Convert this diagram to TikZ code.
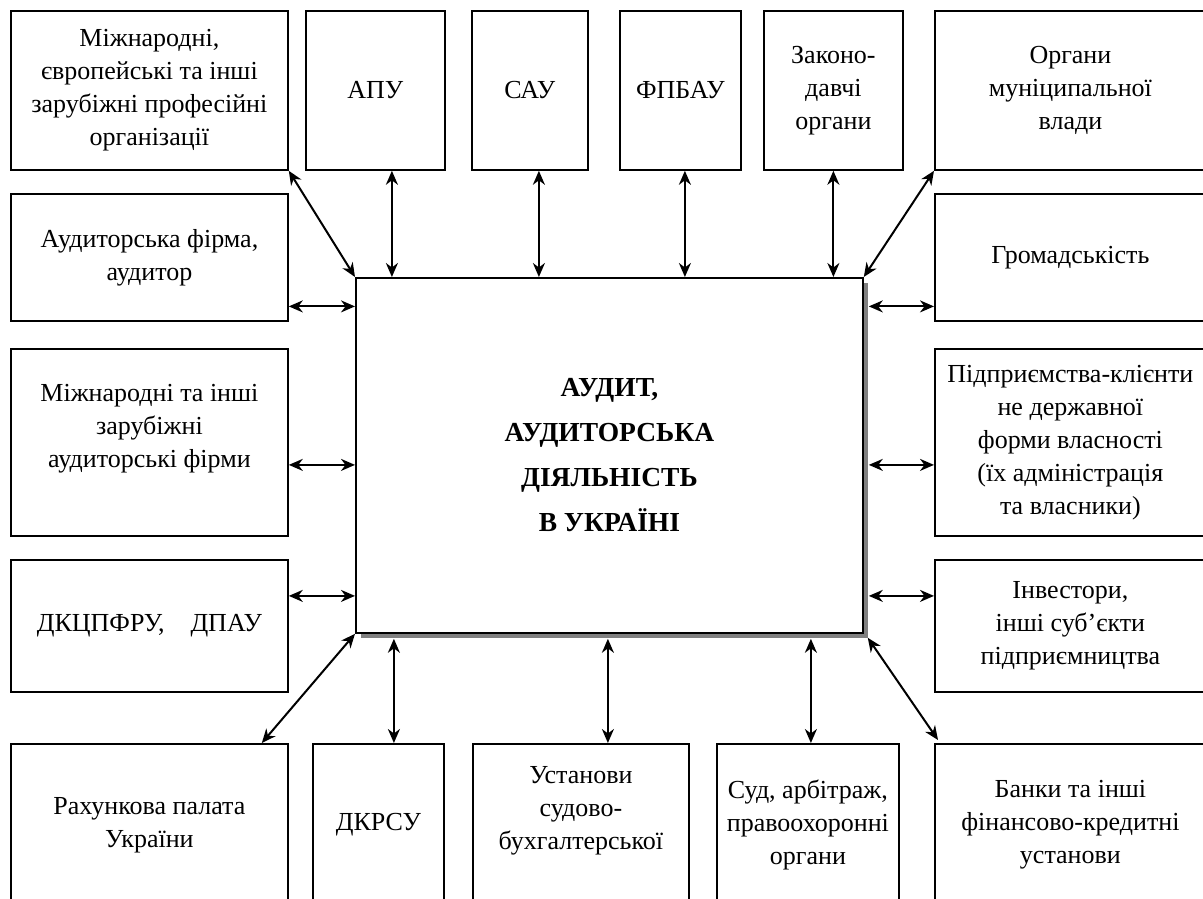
\documentclass[tikz,border=0pt]{standalone}
\usepackage{fontspec}
\setmainfont{Liberation Serif}
\usetikzlibrary{arrows.meta,shadows}

\begin{document}
\begin{tikzpicture}[x=1pt,y=-1pt,
  box/.style={draw,line width=1.8pt,anchor=north west,inner sep=0pt,align=center,
    font=\fontsize{26}{33}\selectfont},
  link/.style={{Stealth[length=14pt,width=12pt,inset=4.5pt]}-{Stealth[length=14pt,width=12pt,inset=4.5pt]},line width=2pt}]

%%% page frame = picture of 1203 x 899
\useasboundingbox (0,0) rectangle (1203,899);
\clip (0,0) rectangle (1203,899);

%% Top row
\node[box,minimum width=277,minimum height=159] (intl) at (10,10)
  {Міжнародні,\\європейські та інші\\зарубіжні професійні\\організації};
\node[box,minimum width=139,minimum height=159] (apu) at (305,10) {АПУ};
\node[box,minimum width=116,minimum height=159] (sau) at (471,10) {САУ};
\node[box,minimum width=121,minimum height=159] (fpbau) at (619,10) {ФПБАУ};
\node[box,minimum width=139,minimum height=159] (zak) at (763,10) {Законо-\\давчі\\органи};
\node[box,minimum width=271,minimum height=159] (munic) at (934,10)
  {Органи\\муніципальної\\влади};

%% Left column
\node[box,minimum width=277,minimum height=127] (firm) at (10,193) {Аудиторська фірма,\\аудитор};
\node[box,minimum width=277,minimum height=187] (forfirm) at (10,348)
  {Міжнародні та інші\\зарубіжні\\аудиторські фірми\\~};
\node[box,minimum width=277,minimum height=132] (dkts) at (10,559) {ДКЦПФРУ,\hspace{26pt}ДПАУ};

%% Right column
\node[box,minimum width=271,minimum height=127] (hromad) at (934,193) {Громадськість};
\node[box,minimum width=271,minimum height=187] (clients) at (934,348)
  {Підприємства-клієнти\\не державної\\форми власності\\(їх адміністрація\\та власники)};
\node[box,minimum width=271,minimum height=132] (invest) at (934,559)
  {Інвестори,\\інші суб’єкти\\підприємництва};

%% Bottom row (cut by the page edge)
\node[box,minimum width=277,minimum height=162] (rakh) at (10,743) {Рахункова палата\\України};
\node[box,minimum width=131,minimum height=162] (dkrsu) at (312,743) {ДКРСУ};
\node[box,minimum width=216,minimum height=162] (ustanovy) at (472,743)
  {Установи\\судово-\\бухгалтерської\\~};
\node[box,minimum width=182,minimum height=162] (sud) at (716,743)
  {Суд, арбітраж,\\правоохоронні\\органи};
\node[box,minimum width=271,minimum height=162] (banky) at (934,743)
  {Банки та інші\\фінансово-кредитні\\установи};

%% Centre
\node[box,minimum width=507,minimum height=355,fill=white,
  font=\fontsize{27.5}{45}\selectfont\bfseries,
  drop shadow={shadow xshift=5pt,shadow yshift=-5pt,fill=black!50,opacity=1}] (audit) at (355,277)
  {АУДИТ,\\АУДИТОРСЬКА\\ДІЯЛЬНІСТЬ\\В УКРАЇНІ};

%% Links, top
\draw[link] (intl.south east) -- (audit.north west);
\draw[link] ([xshift=16.5pt]apu.south) -- ([xshift=16.5pt]apu.south |- audit.north);
\draw[link] ([xshift=9pt]sau.south) -- ([xshift=9pt]sau.south |- audit.north);
\draw[link] ([xshift=4.5pt]fpbau.south) -- ([xshift=4.5pt]fpbau.south |- audit.north);
\draw[link] (zak.south) -- (zak.south |- audit.north);
\draw[link] (munic.south west) -- (audit.north east);

%% Links, sides
\draw[link] ([yshift=-49pt]firm.east) -- ([yshift=-49pt]firm.east -| audit.west);
\draw[link] ([yshift=-22.5pt]forfirm.east) -- ([yshift=-22.5pt]forfirm.east -| audit.west);
\draw[link] ([yshift=30pt]dkts.east) -- ([yshift=30pt]dkts.east -| audit.west);
\draw[link] ([yshift=-49pt]hromad.west) -- ([yshift=-49pt,xshift=5pt]hromad.west -| audit.east);
\draw[link] ([yshift=-22.5pt]clients.west) -- ([yshift=-22.5pt,xshift=5pt]clients.west -| audit.east);
\draw[link] ([yshift=30pt]invest.west) -- ([yshift=30pt,xshift=5pt]invest.west -| audit.east);

%% Links, bottom
\draw[link] (audit.south west) -- ([xshift=-27pt]rakh.north east);
\draw[link] ([xshift=15.5pt,yshift=-5pt]dkrsu.north |- audit.south) -- ([xshift=15.5pt]dkrsu.north);
\draw[link] ([xshift=27pt,yshift=-5pt]ustanovy.north |- audit.south) -- ([xshift=27pt]ustanovy.north);
\draw[link] ([xshift=3pt,yshift=-5pt]sud.north |- audit.south) -- ([xshift=3pt]sud.north);
\draw[link] ([xshift=4pt,yshift=-4pt]audit.south east) -- ([xshift=4pt,yshift=3pt]banky.north west);
\end{tikzpicture}
\end{document}
